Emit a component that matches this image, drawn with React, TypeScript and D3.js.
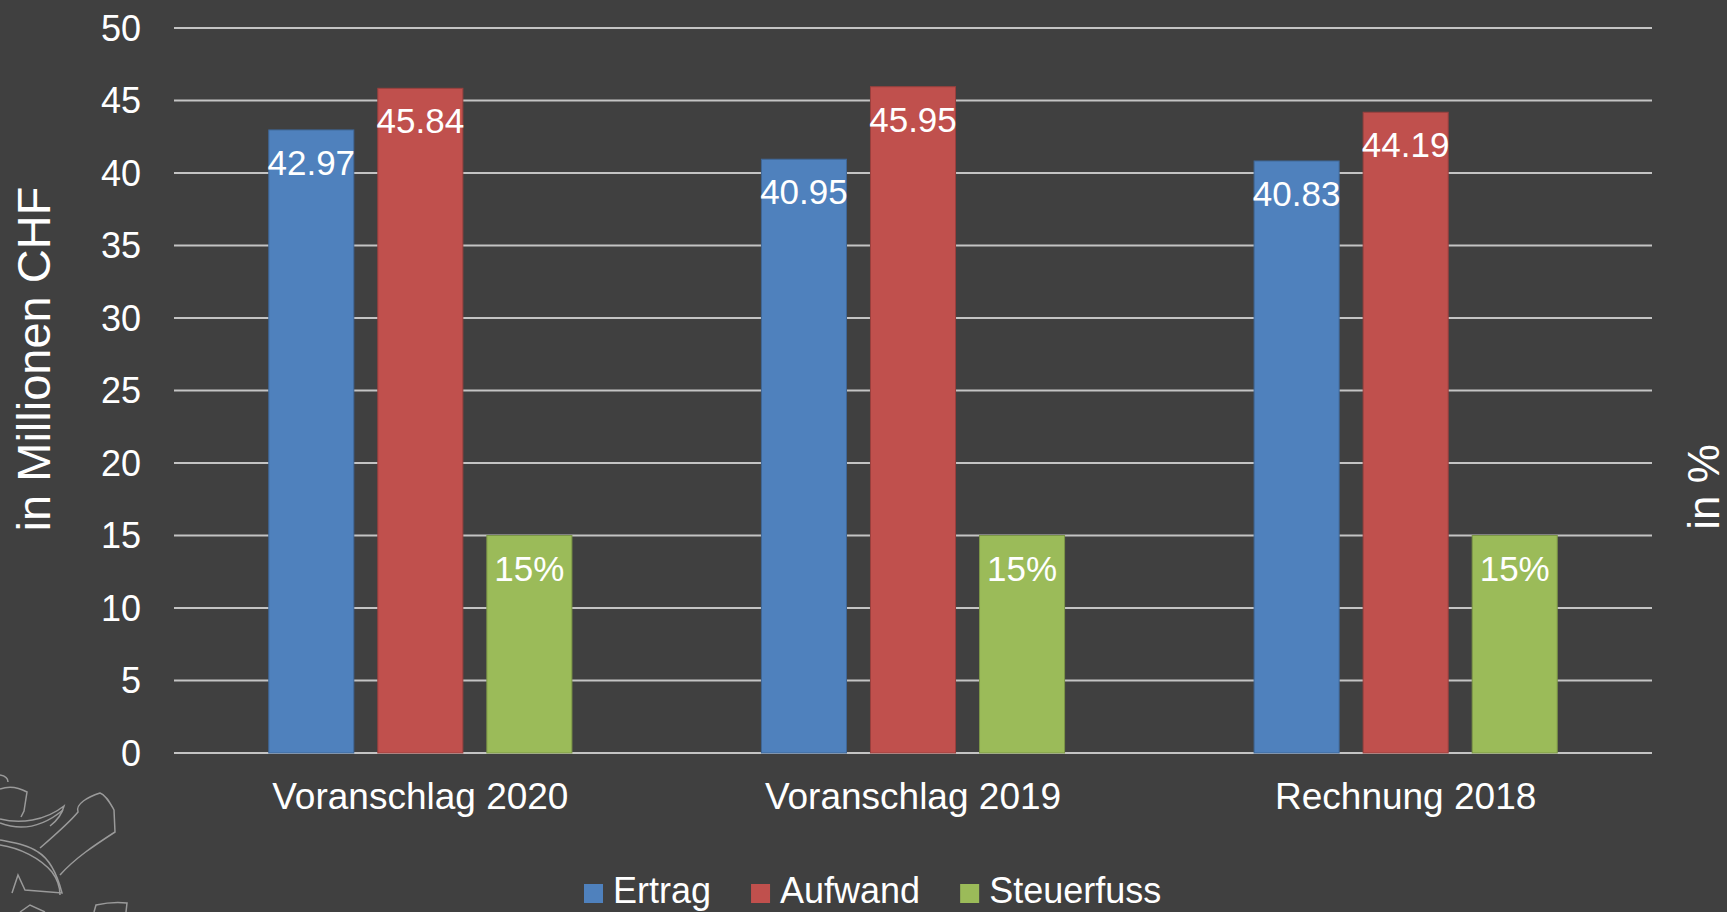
import React, { useEffect, useRef } from 'react';
import * as d3 from 'd3';

// chart data
const categories = ['Voranschlag 2020', 'Voranschlag 2019', 'Rechnung 2018'];
const seriesNames = ['Ertrag', 'Aufwand', 'Steuerfuss'];
const ertrag = [42.97, 40.95, 40.83];
const aufwand = [45.84, 45.95, 44.19];
const steuerfuss = [15, 15, 15]; // in %, secondary axis
const yTicks = [0, 5, 10, 15, 20, 25, 30, 35, 40, 45, 50];

const colors = ['#4f81bd', '#c0504d', '#9bbb59'];
const strokes = ['#3f6797', '#9a403e', '#7c9647'];

export default function App() {
  const ref = useRef<SVGSVGElement>(null);

  useEffect(() => {
    const width = 1727,
      height = 912;
    const left = 174,
      right = 1652,
      top = 28,
      bottom = 753;
    const font = '"Liberation Sans", Arial, sans-serif';

    const svg = d3.select(ref.current);
    svg.selectAll('*').remove();
    svg.attr('width', width).attr('height', height);

    svg.append('rect').attr('width', width).attr('height', height).attr('fill', '#404040');

    const y = d3.scaleLinear().domain([0, 50]).range([bottom, top]);
    const yPct = d3.scaleLinear().domain([0, 50]).range([bottom, top]);

    const x0 = d3.scaleBand().domain(categories).range([left, right]).paddingInner(0.336).paddingOuter(0.168);
    const x1 = d3.scaleBand().domain(seriesNames).range([0, x0.bandwidth()]).paddingInner(0.22).paddingOuter(0.11);

    // gridlines
    svg.selectAll('line.grid')
      .data(yTicks)
      .enter()
      .append('line')
      .attr('x1', left)
      .attr('x2', right)
      .attr('y1', (d) => y(d))
      .attr('y2', (d) => y(d))
      .attr('stroke', '#c4c4c4')
      .attr('stroke-width', 2);

    // y tick labels
    svg.selectAll('text.tick')
      .data(yTicks)
      .enter()
      .append('text')
      .attr('x', 141)
      .attr('y', (d) => y(d))
      .attr('dy', '0.35em')
      .attr('text-anchor', 'end')
      .attr('fill', '#ffffff')
      .style('font-family', font)
      .style('font-size', '36px')
      .text((d) => d);

    const rows = categories.map((c, i) => ({
      cat: c,
      vals: [
        { key: 'Ertrag', v: ertrag[i], scale: y, label: ertrag[i].toFixed(2) },
        { key: 'Aufwand', v: aufwand[i], scale: y, label: aufwand[i].toFixed(2) },
        { key: 'Steuerfuss', v: steuerfuss[i], scale: yPct, label: steuerfuss[i] + '%' },
      ],
    }));

    const groups = svg.selectAll('g.cat')
      .data(rows)
      .enter()
      .append('g')
      .attr('transform', (d) => 'translate(' + x0(d.cat) + ',0)');

    const bars = groups.selectAll('g.bar')
      .data((d) => d.vals)
      .enter()
      .append('g');

    bars.append('rect')
      .attr('x', (d) => x1(d.key)!)
      .attr('width', x1.bandwidth())
      .attr('y', (d) => d.scale(d.v))
      .attr('height', (d) => bottom - d.scale(d.v))
      .attr('fill', (d, i) => colors[i])
      .attr('stroke', (d, i) => strokes[i])
      .attr('stroke-width', 1);

    bars.append('text')
      .attr('x', (d) => x1(d.key)! + x1.bandwidth() / 2)
      .attr('y', (d) => d.scale(d.v) + 45)
      .attr('text-anchor', 'middle')
      .attr('fill', '#ffffff')
      .style('font-family', font)
      .style('font-size', '35px')
      .text((d) => d.label);

    // category labels
    svg.selectAll('text.cat')
      .data(categories)
      .enter()
      .append('text')
      .attr('x', (d) => x0(d)! + x0.bandwidth() / 2)
      .attr('y', 809)
      .attr('text-anchor', 'middle')
      .attr('fill', '#ffffff')
      .style('font-family', font)
      .style('font-size', '37px')
      .text((d) => d);

    // axis titles
    svg.append('text')
      .attr('transform', 'translate(50,359) rotate(-90)')
      .attr('text-anchor', 'middle')
      .attr('fill', '#ffffff')
      .style('font-family', font)
      .style('font-size', '47px')
      .text('in Millionen CHF');

    svg.append('text')
      .attr('transform', 'translate(1719,487) rotate(-90)')
      .attr('text-anchor', 'middle')
      .attr('fill', '#ffffff')
      .style('font-family', font)
      .style('font-size', '44px')
      .text('in %');

    // legend
    const legend = svg.append('g').attr('transform', 'translate(584,903)');
    let lx = 0;
    seriesNames.forEach((name, i) => {
      legend.append('rect')
        .attr('x', lx)
        .attr('y', -19)
        .attr('width', 19)
        .attr('height', 19)
        .attr('fill', colors[i]);
      const t = legend.append('text')
        .attr('x', lx + 29)
        .attr('y', 0)
        .attr('fill', '#ffffff')
        .style('font-family', font)
        .style('font-size', '36px')
        .text(name);
      const w = (t.node() as SVGTextElement).getComputedTextLength();
      lx += 29 + w + 40;
    });

    // decorative lion outline, bottom left corner
    const lion = svg.append('g')
      .attr('fill', 'none')
      .attr('stroke', '#9a9a9a')
      .attr('stroke-width', 1.5);
    const lionPaths = [
      'M0,789 C8,786 18,787 27,792 L24,811 L21,817',
      'M0,819 C20,824 45,821 64,806 C62,814 58,820 50,826',
      'M0,823 C18,830 40,829 63,810',
      'M40,848 C55,835 70,822 78,812 C75,804 88,797 100,793 C106,795 110,803 114,810 L115,832 C95,845 75,858 60,875',
      'M0,840 C15,843 28,845 38,852 C48,858 56,870 62,893 L25,890 L18,875 L12,893',
      'M0,845 C20,848 40,858 52,872 C58,880 60,888 60,895',
      'M20,912 L30,905 L45,912',
      'M94,912 L96,905 C105,903 118,902 127,903 L126,912',
      'M0,775 C6,776 8,779 8,782',
    ];
    lion.selectAll('path')
      .data(lionPaths)
      .enter()
      .append('path')
      .attr('d', (d) => d);
  }, []);

  return (
    <div style={{ position: 'absolute', left: 0, top: 0, margin: 0 }}>
      <svg ref={ref} style={{ display: 'block' }} />
    </div>
  );
}
